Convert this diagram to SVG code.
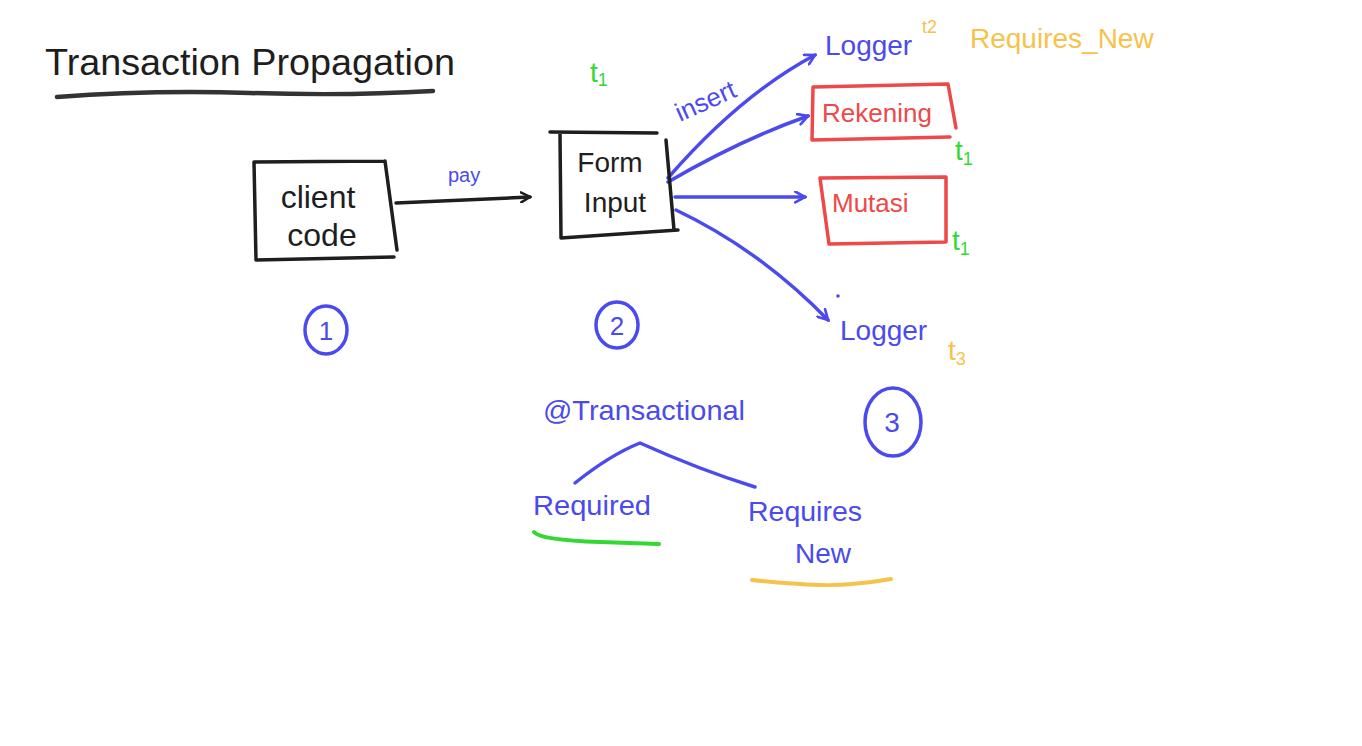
<svg xmlns="http://www.w3.org/2000/svg" width="1362" height="746" viewBox="0 0 1362 746">
<defs>
<style>
.t{font-family:"Liberation Sans",Arial,sans-serif;}
.k{fill:#1e1e1e;}
.b{fill:#4a4aee;}
.r{fill:#ee4848;}
.g{fill:#33d933;}
.o{fill:#f7c24a;}
.sk{fill:none;stroke:#1e1e1e;stroke-width:3.5;stroke-linecap:round;stroke-linejoin:round;}
.sb{fill:none;stroke:#4a4aee;stroke-width:3.5;stroke-linecap:round;stroke-linejoin:round;}
.sr{fill:none;stroke:#ee4848;stroke-width:3.5;stroke-linecap:round;stroke-linejoin:round;}
</style>
<marker id="ak" viewBox="0 0 12 12" refX="10" refY="6" markerWidth="12" markerHeight="12" markerUnits="userSpaceOnUse" orient="auto">
<path d="M1,1 L10,6 L1,11" fill="none" stroke="#1e1e1e" stroke-width="2.5" stroke-linecap="round"/>
</marker>
<marker id="ab" viewBox="0 0 12 12" refX="10" refY="6" markerWidth="13" markerHeight="13" markerUnits="userSpaceOnUse" orient="auto">
<path d="M1,1 L10,6 L1,11" fill="none" stroke="#4a4aee" stroke-width="2.5" stroke-linecap="round"/>
</marker>
</defs>
<rect width="1362" height="746" fill="#ffffff"/>

<g id="title">
<text class="t k" x="45" y="75" font-size="36" textLength="410" lengthAdjust="spacingAndGlyphs">Transaction  Propagation</text>
<path d="M57,97 Q150,90 250,93 T433,91" fill="none" stroke="#333" stroke-width="4.5" stroke-linecap="round"/>
</g>

<g id="connectors">
<path class="sk" d="M396,203 L530,197" marker-end="url(#ak)"/>
<path class="sb" d="M668,178 Q740,95 815,55" marker-end="url(#ab)"/>
<path class="sb" d="M668,182 Q740,140 808,116" marker-end="url(#ab)"/>
<path class="sb" d="M675,197 L805,197" marker-end="url(#ab)"/>
<path class="sb" d="M676,210 Q760,250 828,320" marker-end="url(#ab)"/>
<text class="t b" x="448" y="182" font-size="20">pay</text>
<text class="t b" x="680" y="122" font-size="26" transform="rotate(-24 680 122)">insert</text>
</g>

<g id="client-code">
<path class="sk" d="M254,162 L385,161 M254,162 L256,260 L394,257 M385,161 L397,250"/>
<text class="t k" x="318" y="208" font-size="32" text-anchor="middle">client</text>
<text class="t k" x="322" y="246" font-size="32" text-anchor="middle">code</text>
</g>

<g id="form-input">
<path class="sk" d="M550,132 L657,133 M560,134 L561,238 L678,230 M666,140 L674,230"/>
<text class="t k" x="610" y="172" font-size="28" text-anchor="middle">Form</text>
<text class="t k" x="615" y="212" font-size="28" text-anchor="middle">Input</text>
<text class="t g" x="590" y="82" font-size="28">t<tspan font-size="18" dy="4">1</tspan></text>
</g>

<g id="logger-top">
<text class="t b" x="825" y="55" font-size="28">Logger</text>
<text class="t o" x="922" y="33" font-size="18">t2</text>
<text class="t o" x="970" y="48" font-size="28">Requires_New</text>
</g>

<g id="rekening">
<path class="sr" d="M813,87 L948,84 L956,128 M813,87 L812,140 L950,137"/>
<text class="t r" x="822" y="122" font-size="26">Rekening</text>
<text class="t g" x="955" y="160" font-size="28">t<tspan font-size="18" dy="5">1</tspan></text>
</g>

<g id="mutasi">
<path class="sr" d="M820,178 L946,177 L946,242 L829,244 L820,178"/>
<text class="t r" x="832" y="212" font-size="26">Mutasi</text>
<text class="t g" x="952" y="250" font-size="28">t<tspan font-size="18" dy="5">1</tspan></text>
</g>

<g id="logger-bottom">
<circle cx="838" cy="296" r="1.8" fill="#4a4aee"/>
<text class="t b" x="840" y="340" font-size="28">Logger</text>
<text class="t o" x="948" y="360" font-size="28">t<tspan font-size="18" dy="5">3</tspan></text>
</g>

<g id="step-1">
<ellipse cx="326" cy="330" rx="21" ry="24" class="sb"/>
<text class="t b" x="326" y="340" font-size="26" text-anchor="middle">1</text>
</g>
<g id="step-2">
<ellipse cx="617" cy="325" rx="21" ry="23" class="sb"/>
<text class="t b" x="617" y="335" font-size="26" text-anchor="middle">2</text>
</g>
<g id="step-3">
<ellipse cx="893" cy="422" rx="28" ry="34" class="sb"/>
<text class="t b" x="892" y="432" font-size="28" text-anchor="middle">3</text>
</g>

<g id="transactional">
<text class="t b" x="543" y="420" font-size="28" textLength="202" lengthAdjust="spacingAndGlyphs">@Transactional</text>
<path class="sb" d="M575,483 Q610,455 640,443 Q700,470 755,487"/>
</g>

<g id="required">
<text class="t b" x="533" y="515" font-size="28" textLength="118" lengthAdjust="spacingAndGlyphs">Required</text>
<path d="M534,532 Q540,540 600,542 T659,544" fill="none" stroke="#33d933" stroke-width="4" stroke-linecap="round"/>
</g>

<g id="requires-new">
<text class="t b" x="748" y="521" font-size="28" textLength="114" lengthAdjust="spacingAndGlyphs">Requires</text>
<text class="t b" x="795" y="563" font-size="28">New</text>
<path d="M752,580 Q790,584 820,585 T891,579" fill="none" stroke="#f7c24a" stroke-width="4" stroke-linecap="round"/>
</g>
</svg>
